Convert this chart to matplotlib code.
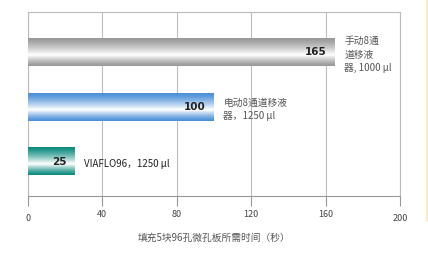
import matplotlib
matplotlib.use("Agg")
import matplotlib.pyplot as plt
import numpy as np
from matplotlib.colors import LinearSegmentedColormap
from matplotlib.patches import Rectangle

plt.rcParams['font.family'] = ['Noto Sans CJK SC', 'DejaVu Sans']

categories = ["手动8通\n道移液\n器, 1000 µl", "电动8通道移液\n器，1250 µl", "VIAFLO96，1250 µl"]
values = [165, 100, 25]
edge_colors = ["#999999", "#4a8fd8", "#0b8b7f"]
label_colors = ["#555555", "#555555", "#222222"]
xticks = [0, 40, 80, 120, 160, 200]
xlabel = "填充5块96孔微孔板所需时间（秒）"

fig = plt.figure(figsize=(4.28, 2.59), dpi=100)
fig.patch.set_facecolor("white")
# beige strip at right
fig.patches.append(Rectangle((425.5/428, 37/259), 2.5/428, 222/259, transform=fig.transFigure,
                             facecolor="#fdecc8", edgecolor="none"))

ax = fig.add_axes([28/428, 63/259, 372/428, 184/259])
ax.set_xlim(0, 200)
ax.set_ylim(2.63, -0.74)

ys = np.arange(len(values))
h = 0.5
bars = ax.barh(ys, values, height=h, color="none", edgecolor="none", zorder=3)

prof = np.concatenate([np.linspace(0, 1, 60) ** 1.3, np.linspace(1, 0, 40) ** 1.3])
for bar, val, ec in zip(bars, values, edge_colors):
    cmap = LinearSegmentedColormap.from_list("g", [ec, "#ffffff"])
    x0, y0 = bar.get_x(), bar.get_y()
    w, hh = bar.get_width(), bar.get_height()
    img = prof.reshape(-1, 1)
    ax.imshow(img, cmap=cmap, vmin=0, vmax=1.0, aspect="auto",
              extent=(x0, x0 + w, y0 + hh, y0), zorder=3, interpolation="bilinear")

for y, val, cat, lc in zip(ys, values, categories, label_colors):
    ax.text(val - 4.3, y, str(val), ha="right", va="center", fontsize=7.5,
            fontweight="bold", color="#222222", zorder=4, family="DejaVu Sans")
    ax.text(val + 5, y + 0.04, cat, ha="left", va="center", fontsize=7,
            color=lc, zorder=4, linespacing=1.45)

ax.set_xticks(xticks)
ax.set_xticklabels([str(t) for t in xticks], fontsize=6.5, color="#444444")
for lab, t in zip(ax.get_xticklabels(), xticks):
    if t in (0, 200):
        lab.set_y(-0.025)
ax.tick_params(axis="x", length=7, color="#999999", pad=3)
ax.set_yticks([])
ax.grid(axis="x", color="#bdbdbd", linewidth=0.8, zorder=0)
for s in ["top", "right", "left"]:
    ax.spines[s].set_color("#bbbbbb")
    ax.spines[s].set_linewidth(0.8)
ax.spines["bottom"].set_color("#999999")
ax.spines["bottom"].set_linewidth(0.8)
ax.set_xlabel(xlabel, fontsize=7, color="#555555", labelpad=7)

fig.savefig("out.png", dpi=100)
